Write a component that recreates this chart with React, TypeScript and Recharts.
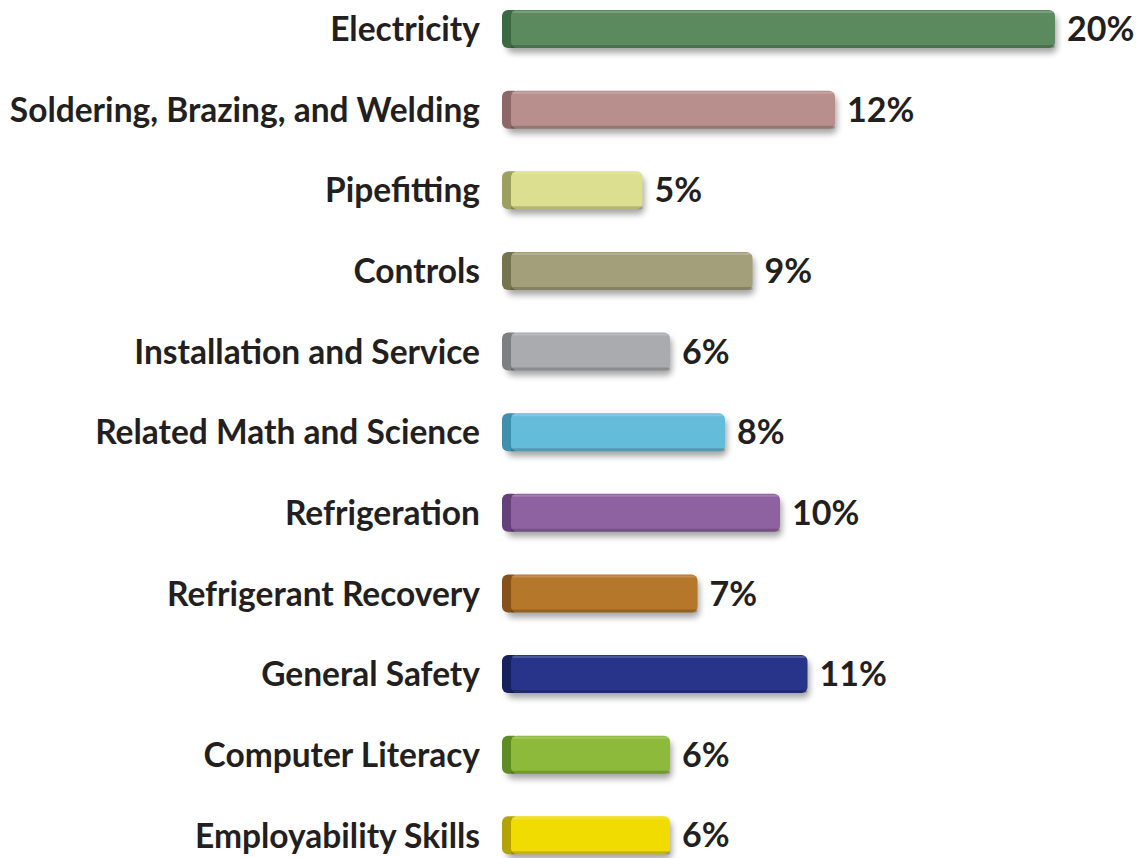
import { BarChart, Bar, XAxis, YAxis, LabelList, Cell } from "recharts";

const topics = [
  "Electricity",
  "Soldering, Brazing, and Welding",
  "Pipefitting",
  "Controls",
  "Installation and Service",
  "Related Math and Science",
  "Refrigeration",
  "Refrigerant Recovery",
  "General Safety",
  "Computer Literacy",
  "Employability Skills",
];
const shares = [20, 12, 5, 9, 6, 8, 10, 7, 11, 6, 6];
const faceColors = [
  "#5a8a5e", "#b98f8e", "#dcdf90", "#a39f7a", "#a9abae", "#63bcd9",
  "#8e62a0", "#b5772a", "#273489", "#8dba3a", "#f0dc00",
];
const capColors = [
  "#3b6a42", "#8e6868", "#9c9f5e", "#76734f", "#7d7f82", "#3f8fae",
  "#65407a", "#87521a", "#18215f", "#5f8c22", "#b3a300",
];

const data = topics.map((topic, i) => ({ topic, value: shares[i] }));

const FONT = "Lato, 'Open Sans', sans-serif";

function Bar3D(props: any) {
  const { x, y, width, height, index } = props;
  const face = faceColors[index];
  const cap = capColors[index];
  return (
    <g>
      <rect x={x + 2} y={y + 5} width={width} height={height} rx={6} fill="#000" opacity={0.35} filter="url(#barShadow)" />
      <rect x={x - 3} y={y} width={18} height={height} rx={6} fill={cap} />
      <rect x={x + 6} y={y} width={width - 6} height={height} rx={6} fill={face} />
      <rect x={x + 6} y={y + height - 3} width={width - 6} height={3} rx={1.5} fill="#000" opacity={0.18} />
      <rect x={x + 7} y={y + 1} width={width - 9} height={2} rx={1} fill="#fff" opacity={0.18} />
    </g>
  );
}

export default function App() {
  return (
    <div style={{ width: 1142, height: 858, overflow: "hidden", position: "relative", background: "#fff" }}>
      <style>{`body{margin:0}`}</style>
      <div style={{ position: "absolute", top: -11, left: 0 }}>
        <BarChart width={1142} height={887} data={data} layout="vertical" margin={{ top: 0, right: 87, bottom: 0, left: 0 }}>
          <defs>
            <filter id="barShadow" x="-10%" y="-50%" width="120%" height="200%">
              <feGaussianBlur stdDeviation="3" />
            </filter>
          </defs>
          <XAxis type="number" domain={[0, 20]} hide />
          <YAxis
            type="category"
            dataKey="topic"
            width={505}
            axisLine={false}
            tickLine={false}
            tickMargin={19}
            tick={{ fill: "#231f20", fontSize: 33.5, fontWeight: 700, fontFamily: FONT }}
          />
          <Bar dataKey="value" barSize={38} shape={<Bar3D />} isAnimationActive={false}>
            {data.map((d, i) => (
              <Cell key={d.topic} fill={faceColors[i]} />
            ))}
            <LabelList
              dataKey="value"
              position="right"
              offset={12}
              formatter={(v: any) => `${v}%`}
              style={{ fill: "#231f20", fontSize: 34, fontWeight: 700, fontFamily: FONT }}
            />
          </Bar>
        </BarChart>
      </div>
    </div>
  );
}
